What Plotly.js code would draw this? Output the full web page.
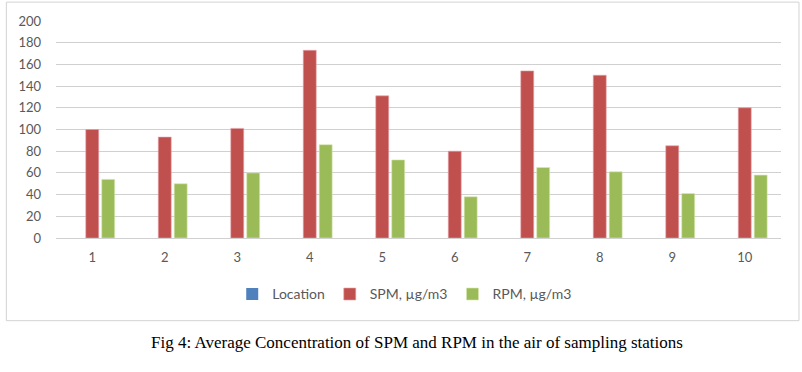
<!DOCTYPE html>
<html>
<head>
<meta charset="utf-8">
<script src="https://cdn.plot.ly/plotly-3.0.1.min.js"></script>
<style>
html,body{margin:0;padding:0;background:#fff;}
#chart{width:802px;height:372px;}
</style>
</head>
<body>
<div id="chart"></div>
<script>
var categories = ["1","2","3","4","5","6","7","8","9","10"];
var locationVals = [0,0,0,0,0,0,0,0,0,0];
var spm = [100,93,101,173,131,80,154,150,85,120];
var rpm = [54,50,60,86,72,38,65,61,41,58];
var yTicks = [0,20,40,60,80,100,120,140,160,180,200];
var caption = "Fig 4: Average Concentration of SPM and RPM in the air of sampling stations";

var traces = [
  {type:"bar", name:"Location", x:categories, y:locationVals, marker:{color:"#4F81BD"}},
  {type:"bar", name:"SPM, µg/m3", x:categories, y:spm, marker:{color:"#C0504D", line:{color:"#E8A0A8", width:0.6}}},
  {type:"bar", name:"RPM, µg/m3", x:categories, y:rpm, marker:{color:"#9BBB59", line:{color:"#D8E8B0", width:0.6}}}
];

var layout = {
  width:802, height:372,
  margin:{l:56, r:21, t:21, b:134},
  paper_bgcolor:"#ffffff", plot_bgcolor:"#ffffff",
  barmode:"group", bargap:0.34, bargroupgap:0.19,
  font:{family:"Lato, 'Open Sans', sans-serif", size:13, color:"#595959"},
  showlegend:true,
  legend:{orientation:"h", x:0.481, xanchor:"center", y:-0.26, yanchor:"middle",
          font:{size:14, color:"#595959"}, itemwidth:30, traceorder:"normal"},
  xaxis:{type:"category", showgrid:false, showline:false, zeroline:false, ticks:"",
         tickfont:{size:13, color:"#595959"}, ticklabelstandoff:10},
  yaxis:{range:[0,200], tickvals:yTicks, showgrid:true, gridcolor:"#D0D0D0", gridwidth:1,
         zeroline:true, zerolinecolor:"#D0D0D0", zerolinewidth:1, showline:false, ticks:"",
         tickfont:{size:13, color:"#595959"}, ticklabelstandoff:14},
  shapes:[
    {type:"rect", xref:"paper", yref:"paper", x0:-0.0685, x1:1.0248, y0:-0.381, y1:1.087,
     line:{color:"#D3D3D3", width:1}, fillcolor:"rgba(0,0,0,0)", layer:"below"}
  ],
  annotations:[
    {text:caption, xref:"paper", yref:"paper", x:0.498, y:-0.48, xanchor:"center", yanchor:"middle",
     showarrow:false, font:{family:"'Liberation Serif', 'Times New Roman', serif", size:17, color:"#000000"}}
  ]
};

Plotly.newPlot("chart", traces, layout, {displayModeBar:false, staticPlot:true});
</script>
</body>
</html>
